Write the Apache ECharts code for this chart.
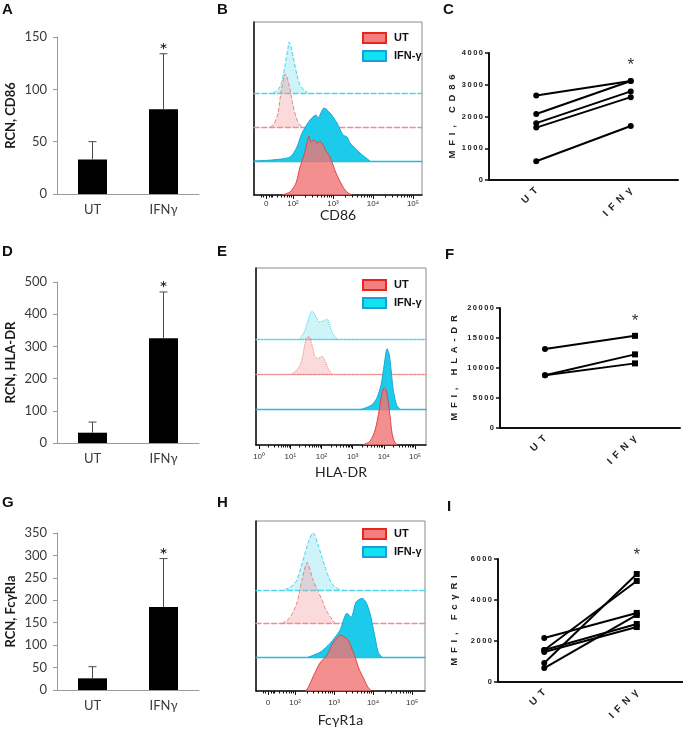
<!DOCTYPE html>
<html>
<head>
<meta charset="utf-8">
<script src="https://cdn.jsdelivr.net/npm/echarts@6/dist/echarts.min.js"></script>
<style>
  html, body { margin: 0; padding: 0; background: #fff; }
  #chart { width: 683px; height: 729px; }
</style>
</head>
<body>
<div id="chart"></div>
<script>
// bar panels (A, D, G): mean relative copy number and upper error
const groups = ["UT", "IFNγ"];
const rcnCD86 = [33, 81];
const rcnCD86Err = [17, 53];
const rcnHLADR = [32, 325];
const rcnHLADRErr = [33, 144];
const rcnFcgR = [26, 185];
const rcnFcgRErr = [26, 108];
const sigMark = ["", "*"];

// paired donor panels (C, F, I): [UT, IFNγ] per donor
const mfiGroups = ["UT", "IFNγ"];
const mfiCD86 = [[2660, 3120], [2080, 3120], [1790, 2790], [1650, 2610], [590, 1700]];
const mfiHLADR = [[13150, 15360], [8790, 12270], [8790, 10770]];
const mfiFcgR = [[2150, 3370], [1560, 4930], [930, 5270], [1560, 2830], [1460, 2680], [680, 3270]];

// histogram panels (B, E, H): [log10 intensity, relative count]
const cd86UT = [[1.725,0],[1.925,3],[2.075,12],[2.175,28],[2.275,40],[2.35,52],[2.4,59],[2.45,53],[2.525,55],[2.6,52],[2.675,54],[2.75,50],[2.825,44],[2.925,38],[3.075,22],[3.25,8],[3.375,2],[3.475,0]];
const cd86IFN = [[1.025,0],[1.475,1],[1.925,4],[2.1,14],[2.225,28],[2.425,41],[2.575,46],[2.625,43],[2.775,53],[2.925,48],[3.1,38],[3.25,26],[3.35,24],[3.425,18],[3.675,8],[3.925,0]];
const cd86UTiso = [[1.425,0],[1.525,3],[1.625,14],[1.7,35],[1.775,50],[1.8,53],[1.85,50],[1.925,38],[2.0,22],[2.075,10],[2.15,3],[2.25,0]];
const cd86IFNiso = [[1.5,0],[1.625,3],[1.725,12],[1.8,28],[1.875,45],[1.9,51],[1.95,46],[2.025,32],[2.1,18],[2.175,8],[2.275,3],[2.375,0]];

const hlaUT = [[3.33,0],[3.56,4],[3.72,15],[3.85,35],[3.94,52],[4.01,57],[4.07,55],[4.13,45],[4.2,28],[4.26,12],[4.33,4],[4.42,0]];
const hlaIFN = [[3.24,0],[3.43,2],[3.62,5],[3.78,12],[3.91,25],[4.01,45],[4.07,58],[4.1,61],[4.17,55],[4.23,40],[4.29,22],[4.36,10],[4.42,4],[4.52,0]];
const hlaUTiso = [[1.03,0],[1.19,4],[1.31,9],[1.38,16],[1.51,36],[1.6,38],[1.7,29],[1.79,18],[1.89,16],[2.02,18],[2.12,13],[2.21,6],[2.34,0]];
const hlaIFNiso = [[1.31,0],[1.47,9],[1.6,22],[1.7,28],[1.83,22],[1.92,17],[2.05,18],[2.18,20],[2.28,12],[2.37,5],[2.5,0]];

const fcgUT = [[2.26,0],[2.33,3],[2.46,14],[2.64,28],[2.82,36],[2.97,48],[3.08,53],[3.15,56],[3.26,54],[3.36,51],[3.46,42],[3.54,34],[3.64,22],[3.74,14],[3.85,5],[3.95,0]];
const fcgIFN = [[2.33,0],[2.64,5],[2.9,14],[3.15,27],[3.33,44],[3.44,40],[3.56,55],[3.72,59],[3.82,55],[3.92,44],[4.05,20],[4.13,5],[4.23,0]];
const fcgUTiso = [[1.67,0],[1.87,6],[2.05,21],[2.18,44],[2.31,61],[2.46,44],[2.59,32],[2.69,24],[2.79,14],[2.9,7],[3.03,0]];
const fcgIFNiso = [[1.74,0],[1.92,4],[2.05,10],[2.26,37],[2.36,50],[2.46,57],[2.59,45],[2.77,23],[2.87,12],[2.97,5],[3.15,0]];

const biexTicks = [1.33, 2, 3, 4, 5];
const biexTickText = ["0", "10²", "10³", "10⁴", "10⁵"];
const logTicks = [0, 1, 2, 3, 4, 5];
const logTickText = ["10⁰", "10¹", "10²", "10³", "10⁴", "10⁵"];

const W = 683, H = 729;
const barFont = "Lato, 'Open Sans', sans-serif";
const sansFont = "'Liberation Sans', Arial, sans-serif";

const redFill = "rgba(240,115,115,0.8)";
const redLine = "#e0454a";
const cyanFill = "#1ccbea";
const cyanLine = "#18a6d6";
const redIsoFill = "rgba(240,140,140,0.32)";
const redIsoLine = "#ec8080";
const cyanIsoFill = "rgba(80,215,232,0.28)";
const cyanIsoLine = "#45d2e4";

const grid = [], xAxis = [], yAxis = [], series = [], legend = [], graphic = [];

const minorTicks = (from, to) => {
  const out = [];
  for (let n = from; n <= to; n++) {
    for (let k = 2; k <= 9; k++) out.push(n + Math.log10(k));
  }
  return out;
};

function renderErr(params, api) {
  const x = api.value(0), mean = api.value(1), err = api.value(2);
  const base = api.coord([x, mean]);
  const top = api.coord([x, mean + err]);
  const style = { stroke: "#4a4a4a", lineWidth: 1 };
  const children = [
    { type: "line", shape: { x1: base[0], y1: base[1], x2: top[0], y2: top[1] }, style },
    { type: "line", shape: { x1: top[0] - 4, y1: top[1], x2: top[0] + 4, y2: top[1] }, style }
  ];
  const mark = sigMark[params.dataIndex];
  if (mark) {
    children.push({
      type: "text", x: top[0], y: top[1] + 7,
      style: { text: mark, fill: "#111", font: "20px " + barFont, align: "center", verticalAlign: "bottom" }
    });
  }
  return { type: "group", children };
}

function addBarPanel(p) {
  const gi = grid.length;
  const xi = xAxis.length;
  grid.push({ left: 57, right: W - 199, top: p.top, bottom: H - p.bottom });
  xAxis.push({
    gridIndex: gi, type: "category", data: groups,
    axisLine: { lineStyle: { color: "#9a9a9a" } },
    axisTick: { length: 4, lineStyle: { color: "#9a9a9a" } },
    axisLabel: { color: "#3a3a3a", fontSize: 13, fontFamily: barFont, margin: 9 }
  });
  yAxis.push({
    gridIndex: gi, type: "value", min: 0, max: p.max, interval: p.step,
    name: p.name, nameLocation: "middle", nameRotate: 90, nameGap: 40,
    nameTextStyle: { fontWeight: "bold", fontSize: 13, fontFamily: barFont, color: "#1a1a1a" },
    axisLine: { show: true, lineStyle: { color: "#9a9a9a" } },
    axisTick: { show: true, length: 4, lineStyle: { color: "#9a9a9a" } },
    axisLabel: { color: "#3a3a3a", fontSize: 13, fontFamily: barFont, margin: 10 },
    splitLine: { show: false }
  });
  series.push({
    type: "bar", xAxisIndex: xi, yAxisIndex: gi, data: p.mean, barWidth: 29,
    itemStyle: { color: "#000" }, silent: true
  });
  series.push({
    type: "custom", xAxisIndex: xi, yAxisIndex: gi, z: 3, silent: true,
    data: p.mean.map((m, i) => [i, m, p.err[i]]), renderItem: renderErr
  });
}

function addHistPanel(p) {
  // curves listed from the bottom trace upward
  const curves = [
    { name: "UT", data: p.ut, fill: redFill, line: redLine, dash: "solid", base: "#111" },
    { name: "IFN-γ", data: p.ifn, fill: cyanFill, line: cyanLine, dash: "solid", base: "#22bde0" },
    { name: "UT iso", data: p.utIso, fill: redIsoFill, line: redIsoLine, dash: p.dash, base: "#ee8e8e" },
    { name: "IFN-γ iso", data: p.ifnIso, fill: cyanIsoFill, line: cyanIsoLine, dash: p.dash, base: "#4fd6e8" }
  ];
  const gIdx = [], xIdx = [];
  curves.forEach((c, k) => {
    const baseline = p.bottom - k * p.gap;
    const gi = grid.length;
    gIdx.push(gi);
    xIdx.push(xAxis.length);
    const isBottom = k === 0;
    grid.push({
      left: p.left, right: W - p.right, top: p.top, bottom: H - baseline,
      show: isBottom, borderColor: "#8a8a8a", borderWidth: 1
    });
    xAxis.push({
      gridIndex: gi, type: "value", min: p.xMin, max: p.xMax, position: "bottom",
      splitLine: { show: false },
      axisLine: isBottom
        ? { show: true, onZero: false, lineStyle: { color: "#111", width: 1.5 } }
        : { show: true, onZero: false, lineStyle: { color: c.base, type: c.dash, width: 1.3, opacity: 1 } },
      axisTick: isBottom
        ? { customValues: p.ticks, length: 4, lineStyle: { color: "#111" } }
        : { show: false },
      axisLabel: isBottom
        ? {
            customValues: p.ticks, margin: p.labelMargin, fontSize: 8, fontFamily: sansFont, color: "#333",
            formatter: v => { const i = p.ticks.findIndex(t => Math.abs(t - v) < 1e-6); return i >= 0 ? p.tickText[i] : ""; }
          }
        : { show: false },
      name: isBottom ? p.name : "",
      nameLocation: "middle", nameGap: p.nameGap,
      nameTextStyle: { fontSize: 14, fontFamily: barFont, color: "#222" }
    });
    yAxis.push({
      gridIndex: gi, type: "value", min: 0, max: baseline - p.top, show: isBottom,
      axisLine: { show: true, onZero: false, lineStyle: { color: "#111", width: 1.5 } },
      axisTick: { show: false }, axisLabel: { show: false }, splitLine: { show: false }
    });
  });
  // minor ticks on the bottom axis
  xAxis.push({
    gridIndex: gIdx[0], type: "value", min: p.xMin, max: p.xMax, position: "bottom",
    axisLine: { show: false, onZero: false }, splitLine: { show: false }, axisLabel: { show: false },
    axisTick: { customValues: p.minor, length: 2.5, lineStyle: { color: "#111" } }
  });
  // draw the top trace first so lower traces overlay it
  for (let k = curves.length - 1; k >= 0; k--) {
    const c = curves[k];
    series.push({
      type: "line", name: c.name, xAxisIndex: xIdx[k], yAxisIndex: gIdx[k],
      data: c.data, smooth: 0.25, symbol: "none", silent: true,
      lineStyle: { color: c.line, width: 1, type: c.dash },
      areaStyle: { color: c.fill, opacity: 1 }
    });
  }
  legend.push({
    orient: "vertical", left: 357, top: p.legendTop, itemWidth: 23, itemHeight: 10, itemGap: 6,
    icon: "rect", selectedMode: false,
    textStyle: { fontWeight: "bold", fontSize: 11, fontFamily: sansFont, color: "#111", padding: [0, 0, 0, 3] },
    data: [
      { name: "UT", itemStyle: { color: "#f28080", borderColor: "#e8261e", borderWidth: 2 } },
      { name: "IFN-γ", itemStyle: { color: "#10e2f0", borderColor: "#1e9ed8", borderWidth: 2 } }
    ]
  });
}

const spaced = (s, sep) => s.split("").join(sep);

function addPairPanel(p) {
  const gi = grid.length;
  const xi = xAxis.length;
  grid.push({ left: p.left, right: W - p.right, top: p.top, bottom: H - p.bottom });
  xAxis.push({
    gridIndex: gi, type: "category", data: mfiGroups,
    axisLine: { lineStyle: { color: "#111", width: 2 } },
    axisTick: { alignWithLabel: true, length: 4, lineStyle: { color: "#111", width: 1.5 } },
    axisLabel: {
      rotate: 45, margin: 9, fontSize: 10, fontWeight: "bold", fontFamily: sansFont, color: "#222",
      formatter: v => spaced(v, "\u2002")
    }
  });
  yAxis.push({
    gridIndex: gi, type: "value", min: 0, max: p.max, interval: p.step,
    name: spaced(p.name, "\u2002"), nameLocation: "middle", nameRotate: 90, nameGap: p.nameGap,
    nameTextStyle: { fontSize: 9.5, fontWeight: "bold", fontFamily: sansFont, color: "#222" },
    axisLine: { show: true, lineStyle: { color: "#111", width: 2 } },
    axisTick: { show: true, length: 4, lineStyle: { color: "#111", width: 1.5 } },
    axisLabel: {
      fontSize: 7.5, fontWeight: "bold", fontFamily: sansFont, color: "#222", margin: 6,
      formatter: v => spaced(String(v), "\u2009")
    },
    splitLine: { show: false }
  });
  let top = 0;
  p.pairs.forEach((pr, i) => { if (pr[1] > p.pairs[top][1]) top = i; });
  p.pairs.forEach((pr, i) => {
    series.push({
      type: "line", xAxisIndex: xi, yAxisIndex: gi, symbolSize: 6, silent: true,
      lineStyle: { color: "#000", width: 2 }, itemStyle: { color: "#000" },
      data: pr.map((v, j) => {
        const item = { value: v, symbol: p.shapes[j] };
        if (i === top && j === 1) {
          item.label = { show: true, formatter: "*", position: "top", distance: p.starGap, fontSize: 17, color: "#333", fontFamily: sansFont };
        }
        return item;
      })
    });
  });
}

addBarPanel({ top: 37, bottom: 194, max: 150, step: 50, name: "RCN, CD86", mean: rcnCD86, err: rcnCD86Err });
addBarPanel({ top: 282, bottom: 443, max: 500, step: 100, name: "RCN, HLA-DR", mean: rcnHLADR, err: rcnHLADRErr });
addBarPanel({ top: 533, bottom: 690, max: 350, step: 50, name: "RCN, FcγRIa", mean: rcnFcgR, err: rcnFcgRErr });

addHistPanel({
  left: 254, right: 422, top: 22, bottom: 195, gap: 34, xMin: 1.025, xMax: 5.225,
  ticks: biexTicks, tickText: biexTickText, minor: [1.2, 1.26, 1.4, 1.46].concat(minorTicks(1, 4).filter(v => v > 1.45)),
  labelMargin: 5, nameGap: 13, name: "CD86", dash: "dashed", legendTop: 27,
  ut: cd86UT, ifn: cd86IFN, utIso: cd86UTiso, ifnIso: cd86IFNiso
});
addHistPanel({
  left: 256, right: 426, top: 268, bottom: 445, gap: 35.3, xMin: -0.1, xMax: 5.35,
  ticks: logTicks, tickText: logTickText, minor: minorTicks(0, 4),
  labelMargin: 8, nameGap: 20, name: "HLA-DR", dash: "dotted", legendTop: 274,
  ut: hlaUT, ifn: hlaIFN, utIso: hlaUTiso, ifnIso: hlaIFNiso
});
addHistPanel({
  left: 256, right: 425, top: 521, bottom: 691, gap: 33.7, xMin: 1.0, xMax: 5.33,
  ticks: [1.31, 2, 3, 4, 5], tickText: biexTickText, minor: [1.18, 1.24, 1.38, 1.44].concat(minorTicks(1, 4).filter(v => v > 1.45)),
  labelMargin: 8, nameGap: 22, name: "FcγR1a", dash: "dashed", legendTop: 523,
  ut: fcgUT, ifn: fcgIFN, utIso: fcgUTiso, ifnIso: fcgIFNiso
});

addPairPanel({ left: 489, right: 678, top: 53, bottom: 180, max: 4000, step: 1000, name: "MFI, CD86", nameGap: 32, pairs: mfiCD86, shapes: ["circle", "circle"], starGap: 4 });
addPairPanel({ left: 500, right: 680, top: 308, bottom: 428, max: 20000, step: 5000, name: "MFI, HLA-DR", nameGap: 41, pairs: mfiHLADR, shapes: ["circle", "rect"], starGap: 3 });
addPairPanel({ left: 498, right: 683, top: 559, bottom: 682, max: 6000, step: 2000, name: "MFI, FcγRI", nameGap: 39, pairs: mfiFcgR, shapes: ["circle", "rect"], starGap: 7 });

// panel letters
[["A", 2, 2], ["B", 217, 2], ["C", 443, 2],
 ["D", 2, 244], ["E", 217, 244], ["F", 445, 247],
 ["G", 2, 495], ["H", 217, 495], ["I", 447, 499]].forEach(([t, x, y]) => {
  graphic.push({ type: "text", x, y, style: { text: t, font: "bold 15px " + sansFont, fill: "#111", verticalAlign: "top" } });
});

const chart = echarts.init(document.getElementById("chart"));
chart.setOption({
  animation: false,
  backgroundColor: "#fff",
  grid, xAxis, yAxis, series, legend, graphic
});
</script>
</body>
</html>
